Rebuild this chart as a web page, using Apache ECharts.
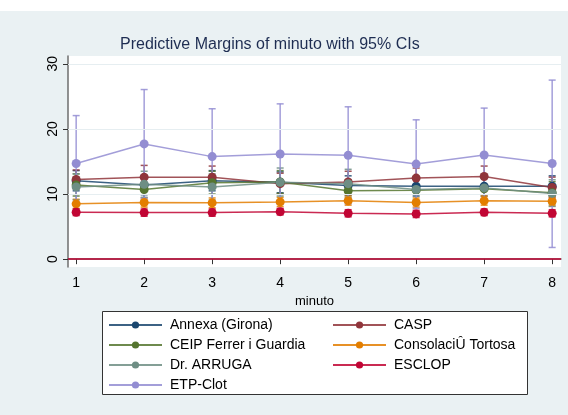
<!DOCTYPE html>
<html>
<head>
<meta charset="utf-8">
<script src="https://cdn.jsdelivr.net/npm/echarts@6/dist/echarts.min.js"></script>
<style>html,body{margin:0;padding:0;background:#eaf1f3;}#c{width:568px;height:415px;}</style>
</head>
<body>
<div id="c"></div>
<script>
const minutes = [1, 2, 3, 4, 5, 6, 7, 8];
const xTicks = [1, 2, 3, 4, 5, 6, 7, 8];
const yTicks = [0, 10, 20, 30];
const names = ['Annexa (Girona)', 'CASP', 'CEIP Ferrer i Guardia', 'ConsolaciÛ Tortosa', 'Dr. ARRUGA', 'ESCLOP', 'ETP-Clot'];

const annexa    = [12.05, 11.4, 12.05, 11.8, 11.3, 11.2, 11.2, 11.2];
const annexaLo  = [10.5, 9.9, 10.5, 10.2, 9.8, 9.7, 9.7, 9.6];
const annexaHi  = [13.6, 12.9, 13.6, 13.4, 12.8, 12.7, 12.7, 12.8];

const casp      = [12.25, 12.6, 12.6, 11.6, 11.85, 12.45, 12.7, 11.0];
const caspLo    = [10.8, 10.9, 11.0, 10.0, 10.2, 10.9, 11.1, 9.4];
const caspHi    = [13.7, 14.4, 14.3, 13.2, 13.5, 14.0, 14.3, 12.6];

const ceip      = [11.4, 10.7, 11.75, 11.85, 10.5, 10.6, 10.8, 10.2];
const ceipLo    = [9.7, 9.0, 10.0, 10.1, 8.8, 8.9, 9.1, 8.5];
const ceipHi    = [13.1, 12.4, 13.5, 13.6, 12.2, 12.3, 12.5, 11.9];

const consol    = [8.5, 8.7, 8.65, 8.8, 8.97, 8.7, 8.97, 8.9];
const consolLo  = [7.8, 8.0, 7.9, 8.1, 8.3, 8.0, 8.3, 8.2];
const consolHi  = [9.2, 9.4, 9.4, 9.5, 9.7, 9.4, 9.7, 9.6];

const arruga    = [11.1, 11.5, 11.1, 11.8, 11.6, 10.7, 10.95, 10.1];
const arrugaLo  = [9.1, 9.5, 9.1, 9.7, 9.5, 8.7, 8.9, 8.1];
const arrugaHi  = [13.1, 13.5, 13.1, 14.0, 13.8, 12.7, 13.0, 12.2];

const esclop    = [7.2, 7.15, 7.15, 7.3, 7.05, 6.95, 7.2, 7.05];
const esclopLo  = [6.7, 6.6, 6.6, 6.8, 6.5, 6.4, 6.7, 6.5];
const esclopHi  = [7.7, 7.7, 7.7, 7.8, 7.6, 7.5, 7.7, 7.6];

const etp       = [14.7, 17.7, 15.75, 16.15, 15.95, 14.6, 16.0, 14.7];
const etpLo     = [7.35, 9.35, 8.4, 8.45, 8.5, 7.8, 8.8, 1.8];
const etpHi     = [22.05, 26.05, 23.1, 23.85, 23.4, 21.4, 23.2, 27.5];

const colors = ['#1a476f', '#90353b', '#55752f', '#e37e00', '#6e8e84', '#c10534', '#938dd2'];
const means = [annexa, casp, ceip, consol, arruga, esclop, etp];
const lows  = [annexaLo, caspLo, ceipLo, consolLo, arrugaLo, esclopLo, etpLo];
const highs = [annexaHi, caspHi, ceipHi, consolHi, arrugaHi, esclopHi, etpHi];

const chart = echarts.init(document.getElementById('c'), null, {renderer: 'canvas'});
const font = 'Liberation Sans, Arial, sans-serif';

const series = [];
names.forEach((n, i) => {
  const s = {
    type: 'custom',
    name: n + ' CI',
    z: 2,
    silent: true,
    data: minutes.map((m, k) => [m, lows[i][k], highs[i][k]]),
    encode: {x: 0, y: [1, 2]},
    renderItem: (params, api) => {
      const x = api.value(0);
      const lo = api.coord([x, api.value(1)]);
      const hi = api.coord([x, api.value(2)]);
      const hw = 3.5;
      const st = {stroke: colors[i], lineWidth: 1.5, opacity: 0.85};
      return {type: 'group', children: [
        {type: 'line', shape: {x1: lo[0], y1: lo[1], x2: hi[0], y2: hi[1]}, style: st},
        {type: 'line', shape: {x1: lo[0] - hw, y1: lo[1], x2: lo[0] + hw, y2: lo[1]}, style: st},
        {type: 'line', shape: {x1: hi[0] - hw, y1: hi[1], x2: hi[0] + hw, y2: hi[1]}, style: st}
      ]};
    }
  };
  if (i === 0) {
    s.markLine = {
      silent: true, symbol: 'none', label: {show: false}, animation: false,
      data: [
        {yAxis: 10, lineStyle: {color: '#e6eef1', width: 1, type: 'solid'}},
        {yAxis: 20, lineStyle: {color: '#e6eef1', width: 1, type: 'solid'}},
        {yAxis: 30, lineStyle: {color: '#e6eef1', width: 1, type: 'solid'}},
        {yAxis: 0, lineStyle: {color: '#c10534', width: 1.5, type: 'solid'}}
      ]
    };
  }
  series.push(s);
});
names.forEach((n, i) => {
  series.push({
    type: 'line',
    name: n,
    z: 3,
    data: minutes.map((m, k) => [m, means[i][k]]),
    symbol: 'circle',
    symbolSize: 9,
    color: colors[i],
    itemStyle: {color: colors[i]},
    lineStyle: {color: colors[i], width: 1.5, opacity: 0.85},
    animation: false
  });
});

chart.setOption({
  animation: false,
  backgroundColor: '#eaf1f3',
  title: {
    text: 'Predictive Margins of minuto with 95% CIs',
    left: 120, top: 37, padding: 0,
    textStyle: {fontFamily: font, fontSize: 16, fontWeight: 'normal', color: '#1e2d52'}
  },
  graphic: [
    {type: 'rect', left: 0, top: 0, shape: {width: 568, height: 11}, style: {fill: '#ffffff'}, z: -10},
    {type: 'rect', left: 102, top: 311, shape: {width: 425, height: 83}, style: {fill: '#ffffff', stroke: '#333333', lineWidth: 1}, z: -5}
  ],
  grid: {left: 68, top: 56, right: 7, bottom: 148, backgroundColor: '#ffffff', show: true, borderWidth: 0},
  legend: [
    {
      data: [names[0], names[2], names[4], names[6]],
      orient: 'vertical', left: 108, top: 318, padding: 0,
      itemWidth: 53, itemHeight: 9, itemGap: 6,
      textStyle: {fontFamily: font, fontSize: 14, color: '#000', lineHeight: 14, padding: [0, 0, 0, 3]},
      selectedMode: false
    },
    {
      data: [names[1], names[3], names[5]],
      orient: 'vertical', left: 332, top: 318, padding: 0,
      itemWidth: 53, itemHeight: 9, itemGap: 6,
      textStyle: {fontFamily: font, fontSize: 14, color: '#000', lineHeight: 14, padding: [0, 0, 0, 3]},
      selectedMode: false
    }
  ],
  xAxis: {
    type: 'value', min: 0.88, max: 8.13,
    name: 'minuto', nameLocation: 'middle', nameGap: 22,
    nameTextStyle: {fontFamily: font, fontSize: 13, color: '#000'},
    axisLine: {show: true, lineStyle: {color: '#6e6e6e', width: 1.5}},
    axisTick: {show: true, length: 5, customValues: xTicks, lineStyle: {color: '#333'}},
    axisLabel: {customValues: xTicks, fontFamily: font, fontSize: 14, color: '#000', margin: 9},
    splitLine: {show: false}
  },
  yAxis: {
    type: 'value', min: -1.2, max: 31.2,
    axisLine: {show: true, lineStyle: {color: '#6e6e6e', width: 1.5}},
    axisTick: {show: true, length: 5, customValues: yTicks, lineStyle: {color: '#333'}},
    axisLabel: {customValues: yTicks, rotate: 90, fontFamily: font, fontSize: 14, color: '#000', margin: 8},
    splitLine: {show: false}
  },
  series: series
});
</script>
</body>
</html>
